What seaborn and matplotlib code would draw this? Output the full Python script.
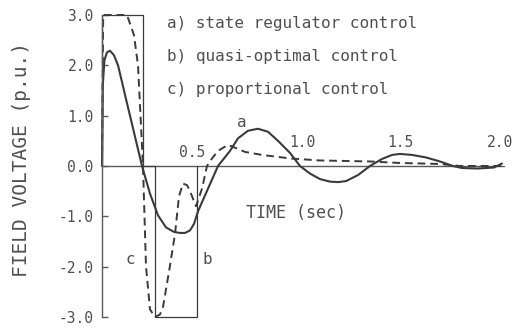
import matplotlib
matplotlib.use("Agg")
import matplotlib.pyplot as plt
import seaborn as sns
import pandas as pd

# a) state regulator control
t_a = [0.0, 0.004, 0.012, 0.025, 0.04, 0.06, 0.08, 0.10, 0.12, 0.14, 0.17, 0.2, 0.24, 0.28,
       0.32, 0.36, 0.39, 0.415, 0.44, 0.46, 0.48, 0.53, 0.58, 0.64, 0.68, 0.73, 0.78,
       0.83, 0.88, 0.94, 0.99, 1.04, 1.09, 1.14, 1.18, 1.22, 1.28, 1.34, 1.40, 1.45, 1.49,
       1.55, 1.62, 1.69, 1.755, 1.80, 1.88, 1.96, 2.0]
v_a = [0.0, 1.6, 2.1, 2.26, 2.29, 2.2, 2.0, 1.67, 1.33, 1.0, 0.5, 0.0, -0.55, -0.98,
       -1.22, -1.31, -1.33, -1.33, -1.28, -1.15, -0.9, -0.45, 0.0, 0.3, 0.55, 0.7, 0.74,
       0.68, 0.5, 0.26, 0.0, -0.15, -0.26, -0.31, -0.32, -0.3, -0.18, 0.0, 0.14, 0.22, 0.24,
       0.22, 0.17, 0.09, 0.0, -0.04, -0.05, -0.03, 0.05]

# b) quasi-optimal control (bang-bang)
t_b = [0.0, 0.0, 0.205, 0.205, 0.265, 0.265, 0.475, 0.475]
v_b = [0.0, 3.0, 3.0, 0.0, 0.0, -3.0, -3.0, 0.0]

# c) proportional control
t_c = [0.0, 0.006, 0.125, 0.16, 0.18, 0.205, 0.22, 0.24, 0.265, 0.29, 0.305, 0.335, 0.365,
       0.385, 0.405, 0.425, 0.44, 0.47, 0.50, 0.525, 0.55, 0.58, 0.63, 0.68, 0.715, 0.80,
       0.94, 1.09, 1.22, 1.34, 1.49, 1.60, 1.69, 1.79, 1.9, 2.0]
v_c = [0.0, 3.0, 3.0, 2.6, 2.0, 0.0, -2.0, -2.85, -3.0, -2.95, -2.8, -2.1, -1.35,
       -0.6, -0.35, -0.38, -0.5, -0.8, -0.45, 0.0, 0.15, 0.3, 0.42, 0.34, 0.28, 0.22,
       0.15, 0.11, 0.1, 0.09, 0.06, 0.05, 0.04, 0.0, 0.0, 0.0]

legend_lines = ["a) state regulator control",
                "b) quasi-optimal control",
                "c) proportional control"]
y_ticks = [3.0, 2.0, 1.0, 0.0, -1.0, -2.0, -3.0]
y_tick_labels = ["3.0", "2.0", "1.0", "0.0", "-1.0", "-2.0", "-3.0"]
x_ticks = [0.5, 1.0, 1.5, 2.0]
x_tick_labels = ["0.5", "1.0", "1.5", "2.0"]

sns.set_theme(style="white")
plt.rcParams["font.family"] = ["DejaVu Sans Mono", "DejaVu Sans"]

ink = "#3a3a3a"
txt = "#505050"

fig = plt.figure(figsize=(5.16, 3.34), dpi=100)
fig.patch.set_facecolor("white")
ax = fig.add_axes([102 / 516, 17 / 334, 400 / 516, 302 / 334])
ax.set_facecolor("white")

df_a = pd.DataFrame({"t": t_a, "v": v_a})
df_b = pd.DataFrame({"t": t_b, "v": v_b})
df_c = pd.DataFrame({"t": t_c, "v": v_c})

sns.lineplot(data=df_b, x="t", y="v", ax=ax, sort=False, estimator=None,
             color=ink, lw=0.9, clip_on=False)
sns.lineplot(data=df_c, x="t", y="v", ax=ax, sort=False, estimator=None,
             color=ink, lw=1.4, clip_on=False)
ax.lines[-1].set_dashes((4, 2.5))
sns.lineplot(data=df_a, x="t", y="v", ax=ax, sort=False, estimator=None,
             color=ink, lw=1.5, clip_on=False)

ax.set_xlim(0, 2.0)
ax.set_ylim(-3.0, 3.0)

# time axis drawn through zero
ax.axhline(0, color="#5a5a5a", lw=1.0, xmax=1.005, clip_on=False, zorder=0)
for s in ["top", "right", "bottom"]:
    ax.spines[s].set_visible(False)
ax.spines["left"].set_color("#5a5a5a")
ax.spines["left"].set_linewidth(1.0)

ax.set_xticks([])
ax.set_yticks(y_ticks)
ax.set_yticklabels(y_tick_labels, fontsize=10.5, color=txt)
ax.tick_params(axis="y", direction="in", length=4, width=1.0, color="#5a5a5a", pad=6, left=True)

label_y = [0.26, 0.46, 0.46, 0.46]
label_dx = [-0.05, 0.0, -0.01, -0.01]
for xv, lab, ly, dx in zip(x_ticks, x_tick_labels, label_y, label_dx):
    ax.text(xv + dx, ly, lab, ha="center", va="center", fontsize=10.5, color=txt)

ax.set_xlabel("")
ax.set_ylabel("")
ax.text(0.72, -0.93, "TIME (sec)", ha="left", va="center", fontsize=12, color=txt)
ax.text(-0.2, 0.52, "FIELD VOLTAGE (p.u.)", rotation=90, ha="center", va="center",
        fontsize=14, color=txt, transform=ax.transAxes)

for i, line in enumerate(legend_lines):
    ax.text(0.325, 2.84 - 0.66 * i, line, ha="left", va="center", fontsize=11.5, color=txt)

ax.text(0.70, 0.86, "a", ha="center", va="center", fontsize=11.5, color=txt)
ax.text(0.525, -1.85, "b", ha="center", va="center", fontsize=11.5, color=txt)
ax.text(0.14, -1.85, "c", ha="center", va="center", fontsize=11.5, color=txt)

fig.savefig("out.png", dpi=100, facecolor="white")
